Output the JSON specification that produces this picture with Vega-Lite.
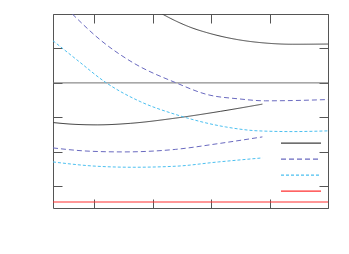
{
  "$schema": "https://vega.github.io/schema/vega-lite/v6.json",
  "width": 275,
  "height": 194,
  "autosize": {"type": "none"},
  "padding": {"left": 53, "top": 14, "right": 21, "bottom": 46},
  "background": "white",
  "config": {
    "view": {"stroke": "#555555", "strokeWidth": 1},
    "axis": {"labels": false, "title": null, "domain": false, "grid": false, "tickColor": "#555555", "tickSize": -9, "tickWidth": 1},
    "legend": {"orient": "none", "legendX": 227, "legendY": 121.5, "title": null, "padding": 0, "symbolType": "stroke", "symbolSize": 1600, "symbolStrokeWidth": 1.3, "clipHeight": 15.4, "rowPadding": 0, "symbolOffset": 0, "labelOpacity": 0, "labelOffset": 0}
  },
  "datasets": {
    "curves": [
      {"series": "a", "curve": "a1", "x": 2.162, "y": 5.0},
      {"series": "a", "curve": "a1", "x": 2.385, "y": 4.805},
      {"series": "a", "curve": "a1", "x": 2.642, "y": 4.616},
      {"series": "a", "curve": "a1", "x": 2.951, "y": 4.448},
      {"series": "a", "curve": "a1", "x": 3.465, "y": 4.253},
      {"series": "a", "curve": "a1", "x": 3.928, "y": 4.157},
      {"series": "a", "curve": "a1", "x": 4.391, "y": 4.122},
      {"series": "a", "curve": "a1", "x": 5.0, "y": 4.128},
      {"series": "a", "curve": "a2", "x": 0.292, "y": 1.849},
      {"series": "a", "curve": "a2", "x": 0.669, "y": 1.797},
      {"series": "a", "curve": "a2", "x": 1.047, "y": 1.782},
      {"series": "a", "curve": "a2", "x": 1.613, "y": 1.826},
      {"series": "a", "curve": "a2", "x": 2.385, "y": 1.977},
      {"series": "a", "curve": "a2", "x": 3.156, "y": 2.174},
      {"series": "a", "curve": "a2", "x": 3.877, "y": 2.384},
      {"series": "b", "curve": "b1", "x": 0.623, "y": 5.0},
      {"series": "b", "curve": "b1", "x": 1.098, "y": 4.253},
      {"series": "b", "curve": "b1", "x": 1.664, "y": 3.584},
      {"series": "b", "curve": "b1", "x": 2.385, "y": 3.012},
      {"series": "b", "curve": "b1", "x": 2.951, "y": 2.654},
      {"series": "b", "curve": "b1", "x": 3.465, "y": 2.538},
      {"series": "b", "curve": "b1", "x": 3.928, "y": 2.48},
      {"series": "b", "curve": "b1", "x": 4.391, "y": 2.488},
      {"series": "b", "curve": "b1", "x": 5.0, "y": 2.517},
      {"series": "b", "curve": "b2", "x": 0.292, "y": 1.113},
      {"series": "b", "curve": "b2", "x": 0.927, "y": 1.017},
      {"series": "b", "curve": "b2", "x": 1.493, "y": 0.997},
      {"series": "b", "curve": "b2", "x": 2.385, "y": 1.07},
      {"series": "b", "curve": "b2", "x": 3.122, "y": 1.238},
      {"series": "b", "curve": "b2", "x": 3.877, "y": 1.433},
      {"series": "c", "curve": "c1", "x": 0.292, "y": 4.224},
      {"series": "c", "curve": "c1", "x": 0.699, "y": 3.672},
      {"series": "c", "curve": "c1", "x": 1.196, "y": 3.012},
      {"series": "c", "curve": "c1", "x": 1.784, "y": 2.459},
      {"series": "c", "curve": "c1", "x": 2.385, "y": 2.087},
      {"series": "c", "curve": "c1", "x": 3.242, "y": 1.724},
      {"series": "c", "curve": "c1", "x": 3.808, "y": 1.608},
      {"series": "c", "curve": "c1", "x": 4.386, "y": 1.587},
      {"series": "c", "curve": "c1", "x": 5.0, "y": 1.608},
      {"series": "c", "curve": "c2", "x": 0.292, "y": 0.706},
      {"series": "c", "curve": "c2", "x": 1.042, "y": 0.581},
      {"series": "c", "curve": "c2", "x": 1.664, "y": 0.552},
      {"series": "c", "curve": "c2", "x": 2.385, "y": 0.581},
      {"series": "c", "curve": "c2", "x": 3.122, "y": 0.706},
      {"series": "c", "curve": "c2", "x": 3.877, "y": 0.823}
    ],
    "red": [
      {"series": "d", "x": 0.292, "y": -0.456},
      {"series": "d", "x": 5.0, "y": -0.456}
    ],
    "zero": [{"y": 3}]
  },
  "resolve": {"axis": {"x": "independent", "y": "independent"}},
  "layer": [
    {
      "data": {"name": "zero"},
      "mark": {"type": "rule", "color": "#707070", "strokeWidth": 1},
      "encoding": {
        "y": {"field": "y", "type": "quantitative", "scale": {"domain": [-0.631, 5.0], "nice": false, "zero": false}, "axis": null}
      }
    },
    {
      "data": {"name": "red"},
      "mark": {"type": "line", "strokeWidth": 2, "strokeOpacity": 0.5},
      "encoding": {
        "x": {"field": "x", "type": "quantitative", "scale": {"domain": [0.292, 5.0], "nice": false, "zero": false}, "axis": {"orient": "top", "values": [1, 2, 3, 4, 5]}},
        "y": {"field": "y", "type": "quantitative", "scale": {"domain": [-0.631, 5.0], "nice": false, "zero": false}, "axis": {"orient": "right", "values": [0, 1, 2, 3, 4, 5]}},
        "color": {"field": "series", "type": "nominal", "scale": {"domain": ["a", "b", "c", "d"], "range": ["#404040", "#6a6ac0", "#4cc0f0", "#ff3030"]}, "legend": {"labelExpr": "' '"}},
        "strokeDash": {"field": "series", "type": "nominal", "scale": {"domain": ["a", "b", "c", "d"], "range": [[1, 0], [5, 3], [3, 2], [1, 0]]}, "legend": {"labelExpr": "' '"}}
      }
    },
    {
      "data": {"name": "curves"},
      "mark": {"type": "line", "strokeWidth": 1, "interpolate": "monotone", "clip": true},
      "encoding": {
        "x": {"field": "x", "type": "quantitative", "scale": {"domain": [0.292, 5.0], "nice": false, "zero": false}, "axis": {"orient": "bottom", "values": [1, 2, 3, 4, 5]}},
        "y": {"field": "y", "type": "quantitative", "scale": {"domain": [-0.631, 5.0], "nice": false, "zero": false}, "axis": {"orient": "left", "values": [0, 1, 2, 3, 4, 5]}},
        "detail": {"field": "curve", "type": "nominal"},
        "color": {"field": "series", "type": "nominal", "scale": {"domain": ["a", "b", "c", "d"], "range": ["#404040", "#6a6ac0", "#4cc0f0", "#ff3030"]}, "legend": {"labelExpr": "' '"}},
        "strokeDash": {"field": "series", "type": "nominal", "scale": {"domain": ["a", "b", "c", "d"], "range": [[1, 0], [5, 3], [3, 2], [1, 0]]}, "legend": {"labelExpr": "' '"}}
      }
    }
  ]
}
